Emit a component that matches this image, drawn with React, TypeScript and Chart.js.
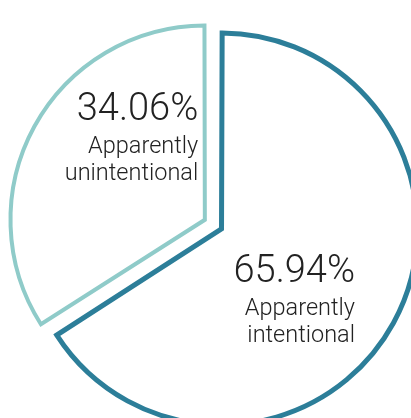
import React, { useEffect, useRef } from "react";
import { Chart, registerables } from "chart.js";

Chart.register(...registerables);

const categories = ["Apparently intentional", "Apparently unintentional"];
const values = [65.94, 34.06];
const labelLines = [["Apparently", "intentional"], ["Apparently", "unintentional"]];
const borderColors = ["#2c7e99", "#8fcbc9"];

// label anchor relative to pie centre, in units of the radius: [right edge x, first baseline y]
const labelAnchors = [
  [0.7135, 0.285],
  [-0.103, -0.557],
];

const labelPlugin = {
  id: "sliceLabels",
  afterDatasetsDraw(chart: any) {
    const ctx = chart.ctx;
    const meta = chart.getDatasetMeta(0);
    const data = chart.data.datasets[0].data as number[];
    const total = data.reduce((a, b) => a + b, 0);
    meta.data.forEach((arc: any, i: number) => {
      const { x, y, outerRadius } = arc.getProps(["x", "y", "outerRadius"], true);
      const ax = x + labelAnchors[i][0] * outerRadius;
      const ay = y + labelAnchors[i][1] * outerRadius;
      ctx.save();
      ctx.fillStyle = "#222222";
      ctx.textAlign = "right";
      ctx.textBaseline = "alphabetic";
      ctx.font = "300 38px Roboto";
      ctx.fillText(((data[i] / total) * 100).toFixed(2) + "%", ax, ay);
      ctx.font = "300 23.5px Roboto";
      ctx.fillText(labelLines[i][0], ax, ay + 33);
      ctx.fillText(labelLines[i][1], ax, ay + 60);
      ctx.restore();
    });
  },
};

export default function App() {
  const ref = useRef<HTMLCanvasElement>(null);
  useEffect(() => {
    if (!ref.current) return;
    const chart = new Chart(ref.current, {
      type: "pie",
      data: {
        labels: categories,
        datasets: [
          {
            data: values,
            backgroundColor: ["#ffffff", "#ffffff"],
            borderColor: borderColors,
            borderWidth: [5, 4],
            borderJoinStyle: "miter",
            offset: [16, 60],
          } as any,
        ],
      },
      options: {
        responsive: false,
        animation: false,
        radius: 192,
        devicePixelRatio: 1,
        layout: { padding: 0 },
        plugins: { legend: { display: false }, tooltip: { enabled: false } },
      } as any,
      plugins: [labelPlugin],
    });
    return () => chart.destroy();
  }, []);
  return (
    <div
      style={{
        position: "fixed",
        left: 0,
        top: 0,
        width: 411,
        height: 418,
        overflow: "hidden",
        background: "#ffffff",
      }}
    >
      <canvas ref={ref} width={436} height={454} style={{ display: "block" }} />
    </div>
  );
}
